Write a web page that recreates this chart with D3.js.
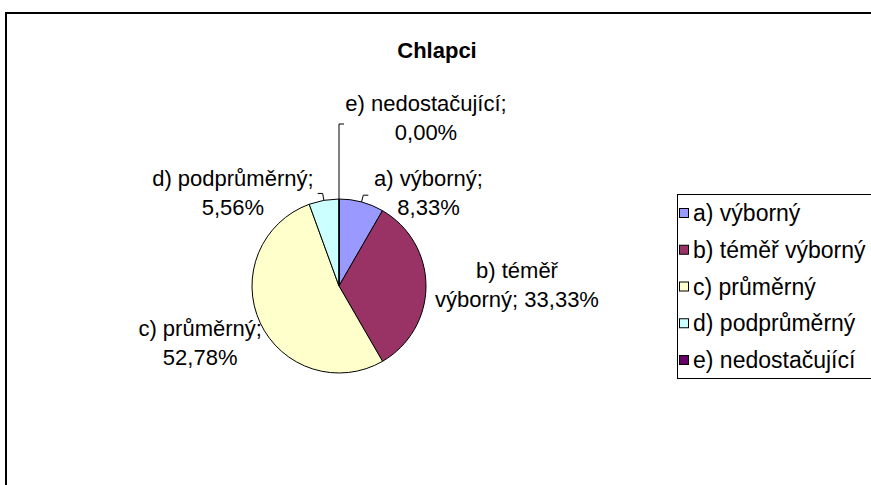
<!DOCTYPE html>
<html>
<head>
<meta charset="utf-8">
<script src="https://cdn.jsdelivr.net/npm/d3@7"></script>
<style>
  body { margin: 0; background: #fff; }
  svg { display: block; font-family: "Liberation Sans", Arial, sans-serif; }
</style>
</head>
<body>
<svg id="chart"></svg>
<script>
// data
var categories = ["a) výborný", "b) téměř výborný", "c) průměrný", "d) podprůměrný", "e) nedostačující"];
var values = [8.33, 33.33, 52.78, 5.56, 0.00];
var colors = ["#9999ff", "#993366", "#ffffcc", "#ccffff", "#660066"];
var title = "Chlapci";

// label lines, split like in the picture
var labelLines = [
    ["a) výborný;", "8,33%"],
    ["b) téměř", "výborný; 33,33%"],
    ["c) průměrný;", "52,78%"],
    ["d) podprůměrný;", "5,56%"],
    ["e) nedostačující;", "0,00%"]
];

var width = 871;
var height = 485;
var cx = 339, cy = 286, radius = 87;

var svg = d3.select("#chart")
    .attr("width", width)
    .attr("height", height);

// chart border (runs off the right and bottom edge)
svg.append("rect")
    .attr("x", 7).attr("y", 14)
    .attr("width", 1000).attr("height", 600)
    .attr("fill", "none")
    .attr("stroke", "#999")
    .attr("stroke-width", 1);
svg.append("rect")
    .attr("x", 6).attr("y", 13)
    .attr("width", 1000).attr("height", 600)
    .attr("fill", "#fff")
    .attr("stroke", "#000")
    .attr("stroke-width", 2);

svg.append("text")
    .attr("x", 437).attr("y", 58)
    .attr("text-anchor", "middle")
    .attr("font-size", 22)
    .attr("font-weight", "bold")
    .text(title);

var pie = d3.pie().sort(null).value(function(d){ return d; });
var arcs = pie(values);
var arc = d3.arc().innerRadius(0).outerRadius(radius);

var g = svg.append("g").attr("transform", "translate(" + cx + "," + cy + ")");

g.selectAll("path.slice")
    .data(arcs)
    .enter()
    .append("path")
    .attr("class", "slice")
    .attr("d", arc)
    .attr("fill", function(d, i){ return colors[i]; })
    .attr("stroke", "#000")
    .attr("stroke-width", 1);

var polar = function(angle, r){
    return [Math.sin(angle) * r, -Math.cos(angle) * r];
};
var midAngle = function(d){ return (d.startAngle + d.endAngle) / 2; };

// label offsets from the slice edge point
var labelShift = [[67, -16], [91, -8], [-60, 13], [-91, -14], [87, -88]];
var lineGap = 29;

// leader lines (only for the small slices)
var leaders = [
    { i: 0, len: 7, tick: 5 },
    { i: 3, len: 7, tick: -5 },
    { i: 4, len: 75, tick: 5 }
];
leaders.forEach(function(l){
    var a = midAngle(arcs[l.i]);
    var p0 = polar(a, radius);
    var p1 = polar(a, radius + l.len);
    g.append("path")
        .attr("d", "M" + p0 + "L" + p1 + "L" + [p1[0] + l.tick, p1[1]])
        .attr("fill", "none")
        .attr("stroke", "#000")
        .attr("stroke-width", 1);
});

arcs.forEach(function(d, i){
    var p = polar(midAngle(d), radius);
    var t = g.append("text")
        .attr("text-anchor", "middle")
        .attr("font-size", 22)
        .attr("fill", "#000");
    labelLines[i].forEach(function(line, k){
        t.append("tspan")
            .attr("x", p[0] + labelShift[i][0])
            .attr("y", p[1] + labelShift[i][1] + k * lineGap)
            .text(line);
    });
});

// legend
var legend = svg.append("g").attr("transform", "translate(677,194)");
legend.append("rect")
    .attr("x", 0.5).attr("y", 0.5)
    .attr("width", 300).attr("height", 184)
    .attr("fill", "#fff")
    .attr("stroke", "#000")
    .attr("stroke-width", 1);

var rowY = d3.scalePoint().domain(categories).range([19, 166]);

var items = legend.selectAll("g.item")
    .data(categories)
    .enter()
    .append("g")
    .attr("class", "item")
    .attr("transform", function(d){ return "translate(0," + rowY(d) + ")"; });

items.append("rect")
    .attr("x", 2.5).attr("y", -4.5)
    .attr("width", 9).attr("height", 9)
    .attr("fill", function(d, i){ return colors[i]; })
    .attr("stroke", "#000")
    .attr("stroke-width", 1);

items.append("text")
    .attr("x", 16)
    .attr("y", 8)
    .attr("font-size", 23)
    .text(function(d){ return d; });
</script>
</body>
</html>
